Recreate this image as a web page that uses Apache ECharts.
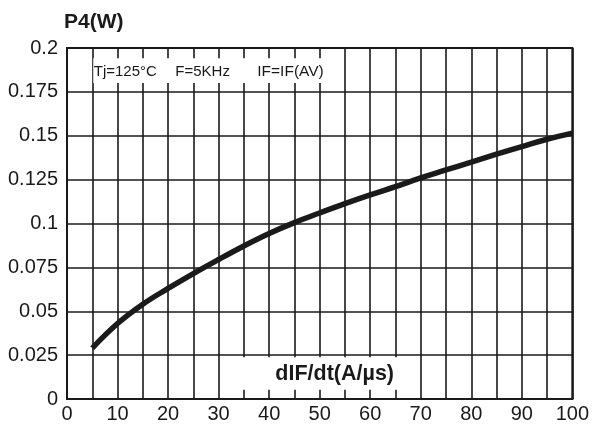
<!DOCTYPE html>
<html><head><meta charset="utf-8">
<script src="https://cdn.jsdelivr.net/npm/echarts@6/dist/echarts.min.js"></script>
<style>html,body{margin:0;padding:0;background:#fff}#c{width:592px;height:426px}</style>
</head><body><div id="c"></div>
<script>
const xValues = [5, 10, 15, 20, 25, 30, 35, 40, 45, 50, 55, 60, 65, 70, 75, 80, 85, 90, 95, 100];
const pValues = [0.029, 0.043, 0.054, 0.063, 0.0715, 0.0795, 0.0872, 0.0943, 0.1005, 0.106, 0.1113, 0.1163, 0.121, 0.126, 0.1305, 0.135, 0.1395, 0.1438, 0.148, 0.1515];
const yTitle = 'P4(W)';
const xTitle = 'dIF/dt(A/\u00b5s)';
const condTexts = ['Tj=125\u00b0C', 'F=5KHz', 'IF=IF(AV)'];

const chart = echarts.init(document.getElementById('c'));
const font = 'Liberation Sans, Arial, sans-serif';
chart.setOption({
  animation: false,
  grid: {left: 67, right: 19, top: 48, bottom: 27, show: true, borderColor: '#1a1a1a', borderWidth: 2},
  xAxis: {
    type: 'value', min: 0, max: 100, interval: 5,
    axisLine: {show: true, lineStyle: {color: '#1a1a1a', width: 2}},
    axisTick: {show: false},
    splitLine: {show: true, lineStyle: {color: '#1a1a1a', width: 1.6}},
    axisLabel: {color: '#1a1a1a', fontFamily: font, fontSize: 20, margin: 5,
      formatter: v => (v % 10 === 0 ? String(v) : '')}
  },
  yAxis: {
    type: 'value', min: 0, max: 0.2, interval: 0.025,
    axisLine: {show: true, lineStyle: {color: '#1a1a1a', width: 2}},
    axisTick: {show: false},
    splitLine: {show: true, lineStyle: {color: '#1a1a1a', width: 1.6}},
    axisLabel: {color: '#1a1a1a', fontFamily: font, fontSize: 20, margin: 9,
      formatter: v => String(parseFloat(v.toFixed(3)))}
  },
  series: [{
    type: 'line', smooth: 0.4, symbol: 'none',
    data: xValues.map((x, i) => [x, pValues[i]]),
    lineStyle: {color: '#1a1a1a', width: 5.5, cap: 'butt'}
  }]
});

const a1 = chart.convertToPixel({gridIndex: 0}, [5.2, 0.1942]);
const a2 = chart.convertToPixel({gridIndex: 0}, [52.8, 0.1800]);
const b1 = chart.convertToPixel({gridIndex: 0}, [30.6, 0.0238]);
const b2 = chart.convertToPixel({gridIndex: 0}, [65.8, 0.0052]);
const cy = (a1[1] + a2[1]) / 2 + 1;
const by = (b1[1] + b2[1]) / 2;
chart.setOption({
  graphic: [
    {type: 'text', left: 64, top: 12, z: 10,
      style: {text: yTitle, font: 'bold 21px ' + font, fill: '#1a1a1a'}},
    {type: 'rect', z: 10, shape: {x: a1[0], y: a1[1], width: a2[0] - a1[0], height: a2[1] - a1[1]}, style: {fill: '#fff'}},
    {type: 'text', z: 11, x: a1[0] + 0.5, y: cy,
      style: {text: condTexts[0], font: '15px ' + font, fill: '#1a1a1a', verticalAlign: 'middle'}},
    {type: 'text', z: 11, x: a1[0] + 82, y: cy,
      style: {text: condTexts[1], font: '15px ' + font, fill: '#1a1a1a', verticalAlign: 'middle'}},
    {type: 'text', z: 11, x: a1[0] + 164, y: cy,
      style: {text: condTexts[2], font: '15.5px ' + font, fill: '#1a1a1a', verticalAlign: 'middle'}},
    {type: 'rect', z: 10, shape: {x: b1[0], y: b1[1], width: b2[0] - b1[0], height: b2[1] - b1[1]}, style: {fill: '#fff'}},
    {type: 'text', z: 11, x: 394, y: by + 1,
      style: {text: xTitle, font: 'bold 21.5px ' + font, fill: '#1a1a1a', align: 'right', verticalAlign: 'middle'}}
  ]
});
</script></body></html>
